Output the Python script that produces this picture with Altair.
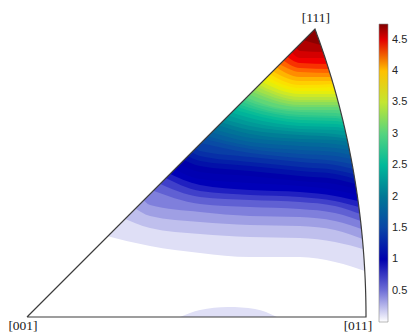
import numpy as np
import pandas as pd
import altair as alt

# ---------------- data ----------------
# contour levels of the inverse pole figure density
levels = [0.1, 0.2, 0.3, 0.4, 0.5, 0.6, 0.7, 0.8, 0.9, 1.0,
          1.1, 1.2, 1.3, 1.4, 1.5, 1.6, 1.7, 1.8, 1.9, 2.0,
          2.1, 2.2, 2.3, 2.4, 2.5, 2.6, 2.7, 2.8, 2.9, 3.0,
          3.1, 3.2, 3.3, 3.4, 3.5, 3.6, 3.7, 3.8, 3.9, 4.0,
          4.1, 4.2, 4.3, 4.4, 4.5, 4.6, 4.7]
max_value = 4.75

# height v where each contour meets the [001]-[111] edge (on that edge h == v)
v_left = [79, 97, 108, 117, 125, 132, 138, 142, 147, 152,
          156, 160, 164, 168, 172, 176, 179, 183, 186, 190,
          193, 196, 200, 203, 206, 209, 211, 214, 216, 219,
          221, 224, 226, 229, 231, 234, 237, 239, 242, 245,
          249, 252, 256, 260, 265, 270, 275]
# height of each contour at h = 123, 173, 223, 273, 308 (None: outside the sector)
v_h123 = [71, 89, 101, 112] + [None] * 43
v_h173 = [64, 83, 95, 105, 113, 120, 126, 132, 138, 145,
          151, 156, 161, 166] + [None] * 33
v_h223 = [60, 80, 92, 101, 110, 117, 122, 127, 134, 141,
          146, 151, 155, 160, 164, 168, 171, 175, 179, 183,
          187, 191, 195, 199, 203, 206, 209, 212, 215, 218] + [None] * 17
v_h273 = [60, 79, 91, 100, 108, 115, 120, 125, 131, 136,
          141, 146, 150, 155, 159, 163, 167, 171, 175, 178,
          182, 185, 188, 191, 194, 197, 200, 202, 205, 207,
          210, 212, 215, 217, 220, 223, 226, 229, 232, 236,
          240, 245, 249, 254, 259, 266] + [None]
v_h308 = [55, 75, 87, 96, 104, 111, 116, 121, 127, 133,
          138, 143, 147, 152, 156, 161, 165, 169, 173, 177,
          180, 183, 187, 190, 193, 196, 199, 201, 204, 207,
          210, 212, 215, 217] + [None] * 13
# height where each contour meets the curved [011]-[111] edge
v_right = [45, 67, 77, 87, 95, 102, 109, 115, 121, 127,
           132, 137, 142, 147, 152, 157, 161, 166, 170, 174,
           178, 181, 185, 188, 191, 194, 197, 200, 203, 206,
           209, 212, 215, 217, 220, 223, 226, 230, 233, 236,
           240, 244, 248, 253, 259, 265, 271]
station_h = [123, 173, 223, 273, 308]
station_v = [v_h123, v_h173, v_h223, v_h273, v_h308]

# small patch of the lowest level on the [001]-[011] edge
blob_h = [153, 173, 201, 228, 250]
blob_v = [0, 7, 10, 8, 0]

# colour map (white -> jet)
cbar_values = [0.0, 0.05, 0.85, 1.05, 1.5, 2.0, 2.5, 3.0, 3.5, 3.7, 3.9, 4.05,
               4.25, 4.45, 4.6, 4.75]
cbar_colors = ["#ffffff", "#ffffff", "#0000b8", "#0000aa", "#0a46a6", "#007896",
               "#00b99a", "#55d47f", "#c3e632", "#f0f000", "#ffdc00", "#ffb400",
               "#ff6400", "#f00000", "#c80000", "#800000"]
tick_values = [0.5, 1, 1.5, 2, 2.5, 3, 3.5, 4, 4.5]
pole_labels = ["[001]", "[011]", "[111]"]

# ---------------- geometry: Lambert equal-area projection ----------------
unit = 339 / (2 * np.sin(np.pi / 8))


def project(d):
    d = np.asarray(d, float)
    d = d / np.linalg.norm(d, axis=-1, keepdims=True)
    k = np.sqrt(2 / (1 + d[..., 2]))
    return d[..., 1] * k * unit, d[..., 0] * k * unit


t = np.linspace(0, 1, 121)
arc_h, arc_v = project(np.stack([t, np.ones_like(t), np.ones_like(t)], axis=-1))
pole_h, pole_v = project([[0, 0, 1], [0, 1, 1], [1, 1, 1]])
TOP = 317

# ---------------- tables ----------------
rows = []
for i, lev in enumerate(levels):
    upper = levels[i + 1] if i + 1 < len(levels) else max_value
    val = (lev + upper) / 2
    pts = [(v_left[i] - 3, v_left[i] + 3)]
    for h, col in zip(station_h, station_v):
        if col[i] is not None:
            pts.append((h, col[i]))
    pts.append((float(np.interp(v_right[i], arc_v, arc_h)) + 3, v_right[i]))
    for h, v in pts:
        rows.append({"level": i, "val": val, "h": h, "v": v, "top": TOP})
bands_df = pd.DataFrame(rows)

blob_val = (levels[0] + levels[1]) / 2
blob_df = pd.DataFrame({"h": blob_h, "v": blob_v, "base": 0, "val": blob_val})

mask_h = [0.0, pole_h[2]] + list(arc_h[::-1]) + [387.0]
mask_v = [0.0, pole_v[2]] + list(arc_v[::-1]) + [0.0]
mask_df = pd.DataFrame({"h": mask_h, "v": mask_v, "top": TOP + 18})

edge_h = [pole_h[0]] + list(arc_h) + [pole_h[0]]
edge_v = [pole_v[0]] + list(arc_v) + [pole_v[0]]
edge_df = pd.DataFrame({"h": edge_h, "v": edge_v, "o": range(len(edge_h))})

pole_df = pd.DataFrame({"h": pole_h, "v": pole_v, "name": pole_labels})

# ---------------- chart ----------------
xs = alt.Scale(domain=[-27, 387], nice=False, zero=False)
ys = alt.Scale(domain=[-18, 317], nice=False, zero=False)
X = alt.X("h:Q", scale=xs, axis=None)
Y = alt.Y("v:Q", scale=ys, axis=None, stack=None)

color = alt.Color(
    "val:Q",
    scale=alt.Scale(domain=cbar_values, range=cbar_colors, interpolate="rgb"),
    legend=alt.Legend(
        title=None, orient="none", legendX=379, legendY=24, direction="vertical",
        gradientLength=298, gradientThickness=9, values=tick_values, format=".1~f",
        labelFont="Liberation Sans", labelFontSize=11, labelColor="#262626",
        labelOffset=4, labelOverlap=False, gradientStrokeColor="#8c8c8c",
        gradientStrokeWidth=0.6,
    ),
)

bands = alt.Chart(bands_df).mark_area(interpolate="monotone", strokeWidth=0).encode(
    x=X, y=Y, y2="top:Q", color=color, detail="level:N"
)
blob = alt.Chart(blob_df).mark_area(interpolate="monotone", strokeWidth=0).encode(
    x=X, y=Y, y2="base:Q", color=color
)
mask = alt.Chart(mask_df).mark_area(color="white", interpolate="linear").encode(
    x=X, y=Y, y2="top:Q"
)
edge = alt.Chart(edge_df).mark_line(color="#3c3c3c", strokeWidth=1.2).encode(
    x=X, y=Y, order="o:Q"
)


def pole_text(name, dx, dy):
    return alt.Chart(pole_df[pole_df["name"] == name]).mark_text(
        font="Liberation Serif", fontSize=13.5, fill="#1a1a1a", dx=dx, dy=dy
    ).encode(x=X, y=Y, text="name:N")


chart = alt.layer(
    bands, blob, mask, edge,
    pole_text("[001]", -4, 9), pole_text("[011]", -8, 9), pole_text("[111]", 1, -11),
).properties(
    width=414, height=335, padding=0, autosize=alt.AutoSizeParams(type="none")
).configure_view(stroke=None)

chart.save("out.html", embed_options={"renderer": "svg", "actions": False})
